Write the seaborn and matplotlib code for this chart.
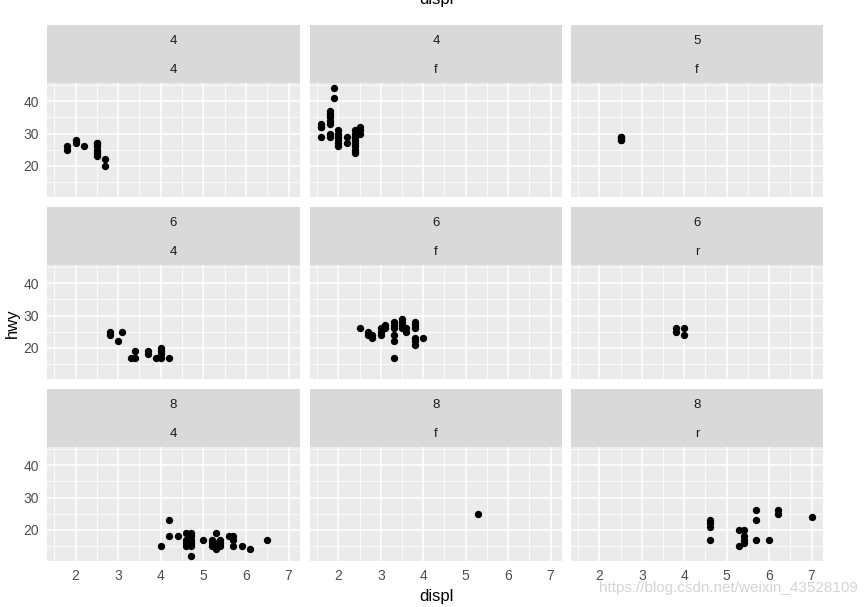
import numpy as np
import pandas as pd
import seaborn as sns
import matplotlib
matplotlib.use("Agg")
import matplotlib.pyplot as plt
from matplotlib.patches import Rectangle

# ---- data ----
cyl_labels = ["4", "4", "5", "6", "6", "6", "8", "8", "8"]
drv_labels = ["4", "f", "f", "4", "f", "r", "4", "f", "r"]

displ_4_4 = [1.8, 1.8, 2.0, 2.0, 2.2, 2.5, 2.5, 2.5, 2.5, 2.5, 2.5, 2.7, 2.7]
hwy_4_4 = [26, 25, 28, 27, 26, 27, 26, 25, 24, 23, 27, 22, 20]

displ_4_f = [1.6, 1.6, 1.6, 1.6,
             1.8, 1.8, 1.8, 1.8, 1.8, 1.8, 1.8,
             1.9, 1.9,
             2.0, 2.0, 2.0, 2.0, 2.0, 2.0,
             2.2, 2.2,
             2.4, 2.4, 2.4, 2.4, 2.4, 2.4, 2.4, 2.4,
             2.5, 2.5, 2.5]
hwy_4_f = [33, 32, 29, 32,
           37, 36, 35, 34, 33, 30, 29,
           44, 41,
           31, 30, 29, 28, 27, 26,
           29, 27,
           31, 30, 29, 28, 27, 26, 25, 24,
           32, 31, 30]

displ_5_f = [2.5, 2.5, 2.5, 2.5]
hwy_5_f = [28, 29, 28, 29]

displ_6_4 = [2.8, 2.8, 3.0, 3.1, 3.3, 3.4, 3.4, 3.7, 3.7, 3.9, 4.0, 4.0, 4.0, 4.0, 4.2]
hwy_6_4 = [25, 24, 22, 25, 17, 19, 17, 19, 18, 17, 20, 19, 18, 17, 17]

displ_6_f = [2.5, 2.7, 2.7, 2.8, 2.8, 3.0, 3.0, 3.0, 3.1, 3.1,
             3.3, 3.3, 3.3, 3.3, 3.3, 3.3,
             3.5, 3.5, 3.5, 3.5, 3.6, 3.6,
             3.8, 3.8, 3.8, 3.8, 3.8, 3.8, 4.0]
hwy_6_f = [26, 25, 24, 24, 23, 26, 25, 24, 27, 26,
           28, 27, 26, 24, 22, 17,
           29, 28, 27, 26, 26, 25,
           28, 27, 26, 23, 22, 21, 23]

displ_6_r = [3.8, 3.8, 4.0, 4.0]
hwy_6_r = [26, 25, 26, 24]

displ_8_4 = [4.0, 4.2, 4.2, 4.4,
             4.6, 4.6, 4.6, 4.6,
             4.7, 4.7, 4.7, 4.7, 4.7, 4.7,
             5.0, 5.2, 5.2, 5.2,
             5.3, 5.3, 5.3, 5.3,
             5.4, 5.4, 5.4,
             5.6, 5.7, 5.7, 5.7, 5.9, 6.1, 6.5]
hwy_8_4 = [15, 23, 18, 18,
           19, 17, 16, 15,
           19, 18, 17, 16, 15, 12,
           17, 17, 16, 15,
           19, 16, 15, 14,
           17, 16, 15,
           18, 18, 17, 15, 15, 14, 17]

displ_8_f = [5.3]
hwy_8_f = [25]

displ_8_r = [4.6, 4.6, 4.6, 4.6, 5.3, 5.3, 5.4, 5.4, 5.4, 5.4,
             5.7, 5.7, 5.7, 6.0, 6.2, 6.2, 7.0]
hwy_8_r = [23, 22, 21, 17, 20, 15, 20, 18, 17, 16,
           26, 23, 17, 17, 26, 25, 24]

x_ticks = [2, 3, 4, 5, 6, 7]
y_ticks = [20, 30, 40]

displs = [displ_4_4, displ_4_f, displ_5_f, displ_6_4, displ_6_f, displ_6_r,
          displ_8_4, displ_8_f, displ_8_r]
hwys = [hwy_4_4, hwy_4_f, hwy_5_f, hwy_6_4, hwy_6_f, hwy_6_r,
        hwy_8_4, hwy_8_f, hwy_8_r]

rows = []
for i, (dx, hy) in enumerate(zip(displs, hwys)):
    for a, b in zip(dx, hy):
        rows.append({"displ": a, "hwy": b, "panel": i})
df = pd.DataFrame(rows)

# ---- plotting ----
sns.set_theme(style="darkgrid")
plt.rcParams['font.family'] = ['Liberation Sans', 'DejaVu Sans']

W, H = 868, 607
g = sns.relplot(data=df, x="displ", y="hwy", col="panel", col_wrap=3,
                col_order=list(range(9)), kind="scatter",
                color="black", s=28, linewidth=0, height=2, aspect=1.3,
                facet_kws=dict(sharex=True, sharey=True))
fig = g.figure
fig.set_size_inches(W / 100, H / 100)
fig.set_dpi(100)
g.set_titles("")

col_left = [47, 310, 571]
col_w = [253, 252, 252]
panel_top = [83, 265, 447]
panel_h = 114
strip_h = 58

def fx(px):
    return px / W

def fy(py):
    return 1 - py / H

for i, ax in enumerate(g.axes.flat):
    r, c = divmod(i, 3)
    L, T, w = col_left[c], panel_top[r], col_w[c]
    ax.set_position([fx(L), fy(T + panel_h), w / W, panel_h / H])
    ax.set_facecolor("#EBEBEB")
    ax.set_xlim(1.33, 7.27)
    ax.set_ylim(10.4, 45.6)
    ax.set_xticks(x_ticks)
    ax.set_yticks(y_ticks)
    ax.set_xticks([1.5, 2.5, 3.5, 4.5, 5.5, 6.5], minor=True)
    ax.set_yticks([15, 25, 35, 45], minor=True)
    ax.grid(which="major", color="white", linewidth=1.1)
    ax.grid(which="minor", color="white", linewidth=0.55)
    ax.set_axisbelow(True)
    for s in ax.spines.values():
        s.set_visible(False)
    ax.set_xlabel("")
    ax.set_ylabel("")
    ax.tick_params(which="minor", length=0)
    ax.tick_params(which="major", length=3.5, width=0.8, color="#333333",
                   labelcolor="#4D4D4D", labelsize=10, pad=2)
    if r < 2:
        ax.tick_params(axis="x", which="major", length=0, labelbottom=False)
    else:
        ax.tick_params(axis="x", labelbottom=True)
    if c > 0:
        ax.tick_params(axis="y", which="major", length=0, labelleft=False)
    else:
        ax.tick_params(axis="y", labelleft=True)

    # strip
    sT = T - strip_h
    fig.add_artist(Rectangle((fx(L), fy(sT + strip_h)), w / W, strip_h / H,
                             transform=fig.transFigure, facecolor="#D9D9D9",
                             edgecolor="none", zorder=0))
    cx = fx(L + w / 2)
    fig.text(cx, fy(sT + 16), cyl_labels[i], ha="center", va="center",
             fontsize=9.5, color="#1A1A1A")
    fig.text(cx, fy(sT + 45), drv_labels[i], ha="center", va="center",
             fontsize=9.5, color="#1A1A1A")

fig.text(fx(436), fy(597), "displ", ha="center", va="center", fontsize=12,
         color="black")
fig.text(fx(12), fy(323), "hwy", ha="center", va="center", fontsize=12,
         rotation=90, color="black")
fig.text(fx(436), fy(4), "displ", ha="center", va="baseline", fontsize=12,
         color="black")
fig.text(fx(858), fy(588), "https://blog.csdn.net/weixin_43528109", ha="right",
         va="center", fontsize=11, color="#D4D4D4")

fig.savefig("out.png", dpi=100, facecolor="white")
